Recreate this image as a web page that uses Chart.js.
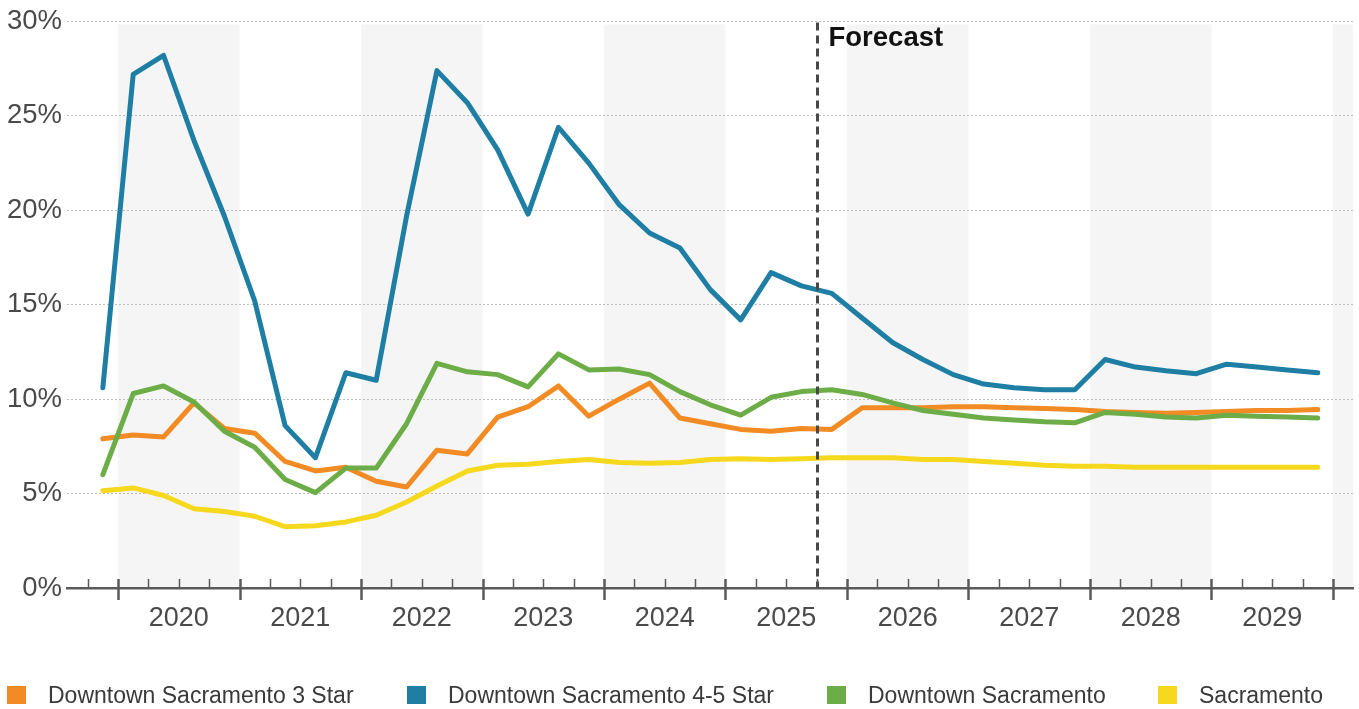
<!DOCTYPE html>
<html>
<head>
<meta charset="utf-8">
<title>Downtown Sacramento vacancy</title>
<script src="https://cdn.jsdelivr.net/npm/chart.js@4.4.1/dist/chart.umd.min.js"></script>
<style>
  html, body { margin: 0; padding: 0; background: #fff; }
  #wrap { position: relative; width: 1359px; height: 709px; overflow: hidden; }
  #legend { position: absolute; left: 0; top: 0; width: 1359px; height: 709px; pointer-events: none; }
  .item { position: absolute; top: 682px; height: 26px; display: flex; align-items: center;
          font: 23px "Liberation Sans", Arial, sans-serif; color: #3a3a3a; white-space: nowrap; }
  .sw { width: 19px; height: 18px; margin-right: 22px; flex: none; }
</style>
</head>
<body>
<div id="wrap">
  <canvas id="c" width="1359" height="660"></canvas>
  <div id="legend"></div>
</div>
<script>
// Quarterly periods, 2019 Q4 through 2029 Q4
const quarters = [
  '2019 Q4',
  '2020 Q1','2020 Q2','2020 Q3','2020 Q4',
  '2021 Q1','2021 Q2','2021 Q3','2021 Q4',
  '2022 Q1','2022 Q2','2022 Q3','2022 Q4',
  '2023 Q1','2023 Q2','2023 Q3','2023 Q4',
  '2024 Q1','2024 Q2','2024 Q3','2024 Q4',
  '2025 Q1','2025 Q2','2025 Q3','2025 Q4',
  '2026 Q1','2026 Q2','2026 Q3','2026 Q4',
  '2027 Q1','2027 Q2','2027 Q3','2027 Q4',
  '2028 Q1','2028 Q2','2028 Q3','2028 Q4',
  '2029 Q1','2029 Q2','2029 Q3','2029 Q4'
];

// Vacancy rates, %
const threeStar = [7.9, 8.1, 8.0, 9.8, 8.45, 8.2, 6.7, 6.2, 6.4, 5.65, 5.35, 7.3, 7.1, 9.05, 9.6, 10.7, 9.1, 10.0, 10.85, 9.0, 8.7, 8.4, 8.3, 8.45, 8.4, 9.55, 9.55, 9.55, 9.6, 9.6, 9.55, 9.5, 9.45, 9.35, 9.3, 9.25, 9.3, 9.35, 9.4, 9.4, 9.45];
const fourFiveStar = [10.6, 27.2, 28.2, 23.7, 19.7, 15.2, 8.6, 6.9, 11.4, 11.0, 19.7, 27.4, 25.7, 23.2, 19.8, 24.4, 22.5, 20.3, 18.8, 18.0, 15.8, 14.2, 16.7, 16.0, 15.6, 14.3, 13.0, 12.1, 11.3, 10.8, 10.6, 10.5, 10.5, 12.1, 11.7, 11.5, 11.35, 11.85, 11.7, 11.55, 11.4];
const downtown = [6.0, 10.3, 10.7, 9.85, 8.3, 7.45, 5.75, 5.05, 6.35, 6.35, 8.7, 11.9, 11.45, 11.3, 10.65, 12.4, 11.55, 11.6, 11.3, 10.4, 9.7, 9.15, 10.1, 10.4, 10.5, 10.25, 9.8, 9.4, 9.2, 9.0, 8.9, 8.8, 8.75, 9.3, 9.2, 9.05, 9.0, 9.15, 9.1, 9.05, 9.0];
const sacramento = [5.15, 5.3, 4.9, 4.2, 4.05, 3.8, 3.25, 3.3, 3.5, 3.85, 4.55, 5.4, 6.2, 6.5, 6.55, 6.7, 6.8, 6.65, 6.6, 6.65, 6.8, 6.85, 6.8, 6.85, 6.9, 6.9, 6.9, 6.8, 6.8, 6.7, 6.6, 6.5, 6.45, 6.45, 6.4, 6.4, 6.4, 6.4, 6.4, 6.4, 6.4];

const seriesNames = ['Downtown Sacramento 3 Star', 'Downtown Sacramento 4-5 Star', 'Downtown Sacramento', 'Sacramento'];
const seriesColors = ['#F28B24', '#1E7EA3', '#6CAD47', '#F6D81C'];

const yearLabels = [2020, 2021, 2022, 2023, 2024, 2025, 2026, 2027, 2028, 2029];
const yTicks = [0, 5, 10, 15, 20, 25, 30];
const forecastStart = '2025 Q4';
const forecastLabel = 'Forecast';

const FONT = '"Liberation Sans", Arial, Helvetica, sans-serif';
const TEXT = '#4a4a4a';

// quarter label -> fractional year at the middle / start of that quarter
const qMid = q => { const [y, n] = q.split(' Q'); return +y + (+n - 0.5) / 4; };
const qStart = q => { const [y, n] = q.split(' Q'); return +y + (+n - 1) / 4; };

const X_MIN = 2019.58, X_MAX = 2030.165;

const line = (label, vals, color) => ({
  label,
  data: vals.map((v, i) => ({ x: qMid(quarters[i]), y: v })),
  borderColor: color,
  backgroundColor: color,
  borderWidth: 5,
  pointRadius: 0,
  tension: 0,
  fill: false,
  borderJoinStyle: 'round',
  borderCapStyle: 'round'
});

// alternating year shading, quarter tick marks, forecast divider
const decor = {
  id: 'decor',
  beforeDraw(chart) {
    const { ctx, chartArea: a, scales: { x } } = chart;
    ctx.save();
    ctx.fillStyle = '#f5f5f5';
    for (let yr = 2020; yr <= 2030; yr += 2) {
      const l = Math.max(x.getPixelForValue(yr), a.left);
      const r = Math.min(x.getPixelForValue(yr + 1), a.right);
      if (r > l) ctx.fillRect(l, a.top + 3, r - l, a.bottom - a.top - 3);
    }
    ctx.restore();
  },
  afterDatasetsDraw(chart) {
    const { ctx, chartArea: a, scales: { x } } = chart;
    const fx = Math.round(x.getPixelForValue(qStart(forecastStart))) + 0.5;
    ctx.save();
    ctx.strokeStyle = '#484848';
    ctx.lineWidth = 3;
    ctx.setLineDash([8, 5]);
    ctx.beginPath();
    ctx.moveTo(fx, a.top + 1);
    ctx.lineTo(fx, a.bottom);
    ctx.stroke();
    ctx.setLineDash([]);
    ctx.fillStyle = '#111';
    ctx.font = 'bold 27.5px ' + FONT;
    ctx.textBaseline = 'middle';
    ctx.textAlign = 'left';
    ctx.fillText(forecastLabel, fx + 11, a.top + 17);
    ctx.restore();
  },
  afterDraw(chart) {
    const { ctx, chartArea: a, scales: { x } } = chart;
    const y0 = a.bottom;
    ctx.save();
    ctx.strokeStyle = '#5a5a5a';
    for (let v = 2019.75; v <= 2030.001; v += 0.25) {
      const px = Math.round(x.getPixelForValue(v)) + 0.5;
      if (px < a.left || px > a.right) continue;
      const major = Math.abs(v - Math.round(v)) < 1e-6;
      ctx.lineWidth = major ? 2.5 : 1.5;
      ctx.beginPath();
      ctx.moveTo(px, y0 - 9);
      ctx.lineTo(px, major ? y0 + 12 : y0);
      ctx.stroke();
    }
    ctx.restore();
  }
};

Chart.defaults.font.family = FONT;

new Chart(document.getElementById('c'), {
  type: 'line',
  data: {
    datasets: [
      line(seriesNames[1], fourFiveStar, seriesColors[1]),
      line(seriesNames[2], downtown, seriesColors[2]),
      line(seriesNames[0], threeStar, seriesColors[0]),
      line(seriesNames[3], sacramento, seriesColors[3])
    ]
  },
  options: {
    responsive: false,
    animation: false,
    events: [],
    layout: { padding: { top: 21, right: 6, left: 0, bottom: 0 } },
    plugins: { legend: { display: false }, tooltip: { enabled: false } },
    scales: {
      x: {
        type: 'linear',
        min: X_MIN,
        max: X_MAX,
        afterBuildTicks: s => { s.ticks = yearLabels.map(y => ({ value: y + 0.5 })); },
        afterFit: s => { s.height = 72; },
        grid: { display: false, drawTicks: false },
        border: { display: true, color: '#5a5a5a', width: 2.5 },
        ticks: {
          autoSkip: false, maxRotation: 0, padding: 14, color: TEXT,
          font: { size: 27 },
          callback: v => String(Math.floor(v))
        }
      },
      y: {
        min: 0,
        max: 30,
        afterBuildTicks: s => { s.ticks = yTicks.map(v => ({ value: v })); },
        afterFit: s => { s.width = 67; },
        grid: { color: '#bdbdbd', lineWidth: 1, drawTicks: false },
        border: { display: false, dash: [2, 2] },
        ticks: { padding: 5, color: TEXT, font: { size: 27.5 }, callback: v => v + '%' }
      }
    }
  },
  plugins: [decor]
});

// legend row
const legendLeft = [7, 407, 827, 1158];
const lg = document.getElementById('legend');
seriesNames.forEach((name, i) => {
  const it = document.createElement('div');
  it.className = 'item';
  it.style.left = legendLeft[i] + 'px';
  const sw = document.createElement('span');
  sw.className = 'sw';
  sw.style.background = seriesColors[i];
  const tx = document.createElement('span');
  tx.textContent = name;
  it.appendChild(sw);
  it.appendChild(tx);
  lg.appendChild(it);
});
</script>
</body>
</html>
